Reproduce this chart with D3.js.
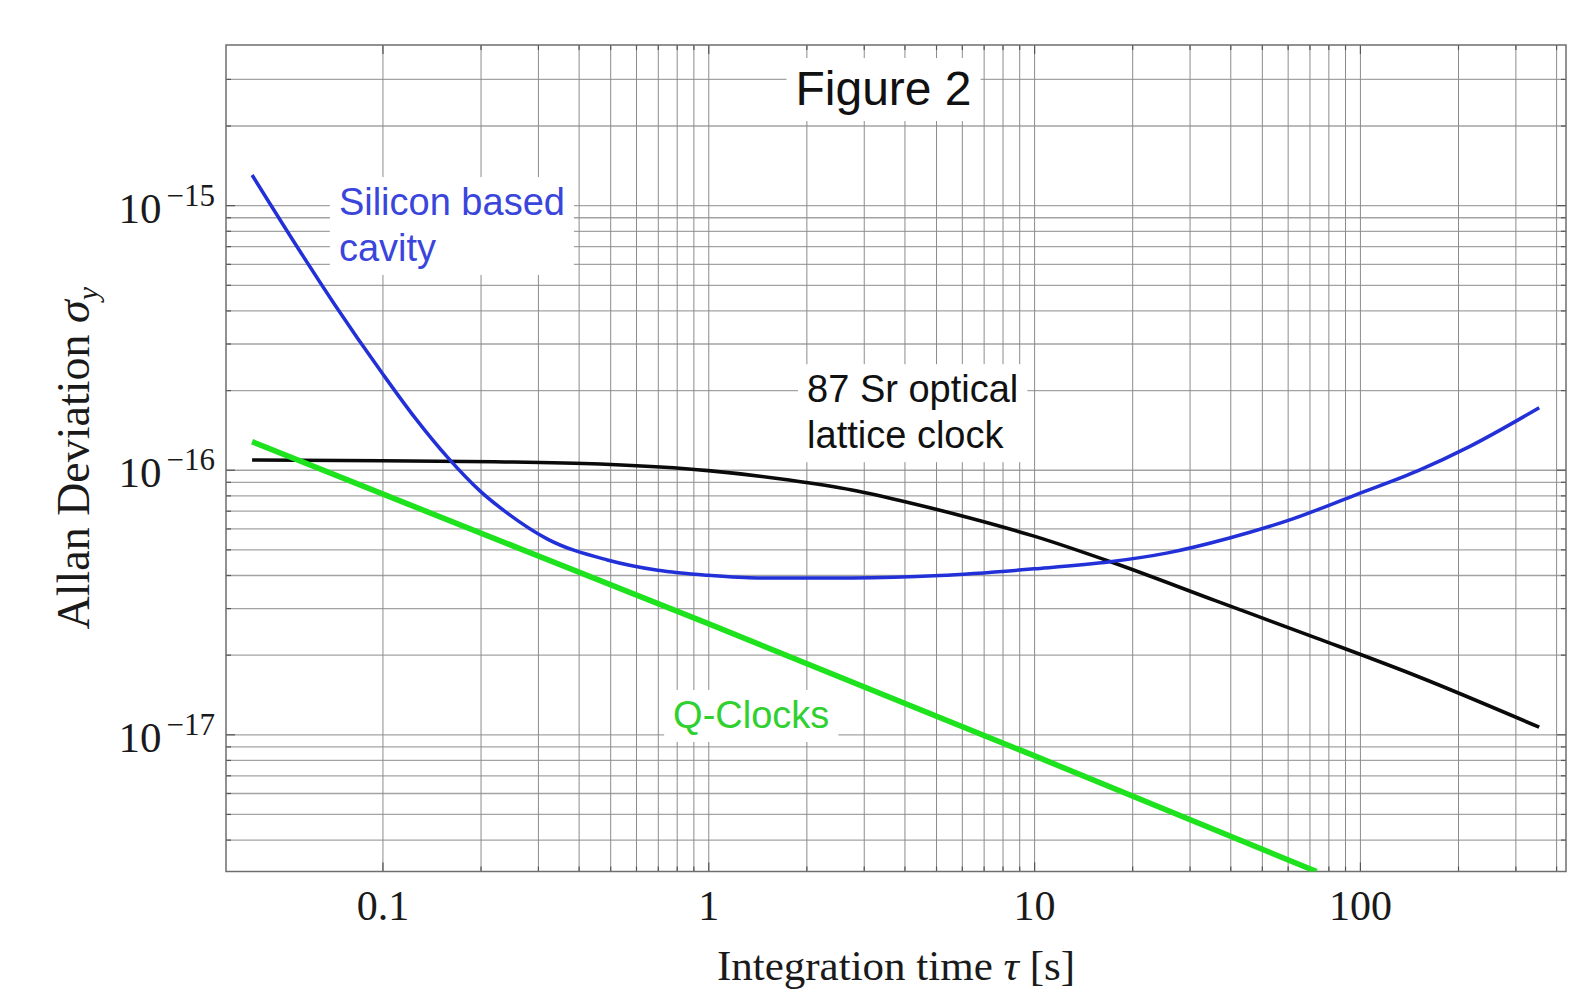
<!DOCTYPE html>
<html>
<head>
<meta charset="utf-8">
<script src="https://cdn.jsdelivr.net/npm/d3@7"></script>
<style>
  body { margin: 0; background: #fff; }
  svg { display: block; }
</style>
</head>
<body>
<svg id="chart" width="1588" height="989"></svg>
<script>
// values: integration time tau [s] -> Allan deviation
const siliconTau = [0.0398, 0.0562, 0.0708, 0.1, 0.1259, 0.1585, 0.1995, 0.24, 0.32, 0.49, 0.70, 1.0, 1.42, 2.76, 5.14, 10.0, 17.1, 25.5, 39.8, 62.2, 97.1, 151, 216, 355];
const siliconSigma = [1.30e-15, 6.61e-16, 4.27e-16, 2.31e-16, 1.57e-16, 1.113e-16, 8.30e-17, 6.90e-17, 5.48e-17, 4.56e-17, 4.17e-17, 3.99e-17, 3.90e-17, 3.90e-17, 3.98e-17, 4.22e-17, 4.49e-17, 4.84e-17, 5.52e-17, 6.52e-17, 8.04e-17, 9.92e-17, 1.22e-16, 1.715e-16];

const srTau = [0.0398, 0.1, 0.22, 0.465, 1.0, 1.77, 2.76, 4.2, 6.35, 10, 17.6, 36, 73.6, 150.6, 355];
const srSigma = [1.088e-16, 1.081e-16, 1.072e-16, 1.051e-16, 9.92e-17, 9.14e-17, 8.38e-17, 7.47e-17, 6.57e-17, 5.61e-17, 4.44e-17, 3.20e-17, 2.31e-17, 1.654e-17, 1.064e-17];

const qclockTau = [0.0398, 0.1, 1, 10, 73.6];
const qclockSigma = [1.276e-16, 8.1e-17, 2.62e-17, 8.3e-18, 3.03e-18];

const xTickValues = [0.1, 1, 10, 100];
const xTickLabels = ["0.1", "1", "10", "100"];
const yTickValues = [1e-17, 1e-16, 1e-15];
const yTickExponents = ["\u221217", "\u221216", "\u221215"];

const xDomain = [0.0331, 429];
const yDomain = [3.03e-18, 4.03e-15];

// text labels placed in data units (tau, sigma of first baseline)
const annotations = [
  { lines: ["Figure 2"], tau: 3.45, sigma: 2.39e-15, color: "#111", anchor: "middle", size: 48 },
  { lines: ["Silicon based", "cavity"], tau: 0.0735, sigma: 9.18e-16, color: "#3a45dc", anchor: "start", size: 38 },
  { lines: ["87 Sr optical", "lattice clock"], tau: 2.01, sigma: 1.80e-16, color: "#111", anchor: "start", size: 38 },
  { lines: ["Q-Clocks"], tau: 0.78, sigma: 1.057e-17, color: "#2fd02f", anchor: "start", size: 38 }
];

class AllanPlot {
  constructor(el) {
    this.svg = d3.select(el);
    this.width = +this.svg.attr("width");
    this.height = +this.svg.attr("height");
    this.left = 226;
    this.right = 1566;
    this.top = 45;
    this.bottom = 871.5;
  }

  render() {
    this.initScales();
    this.initGrid();
    this.initFrameTicks();
    this.initCurves();
    this.initLabels();
    this.initAxes();
  }

  initScales() {
    this.x = d3.scaleLog().domain(xDomain).range([this.left, this.right]);
    this.y = d3.scaleLog().domain(yDomain).range([this.bottom, this.top]);

    // grid at 1..9 of every decade (no vertical lines left of 0.1)
    this.gridX = [];
    [0.1, 1, 10, 100].forEach((p) => {
      for (let m = 1; m <= 9; m++) {
        const v = +(m * p).toPrecision(3);
        if (v <= 400) this.gridX.push(v);
      }
    });
    this.gridY = [];
    [1e-18, 1e-17, 1e-16, 1e-15].forEach((p) => {
      for (let m = 1; m <= 9; m++) {
        const v = m * p;
        if (v >= 3.9e-18 && v <= 3.5e-15) this.gridY.push(v);
      }
    });
  }

  initGrid() {
    const h = this.bottom - this.top;
    const w = this.right - this.left;

    this.svg.append("g")
      .attr("class", "grid-y")
      .attr("transform", `translate(${this.left},0)`)
      .call(d3.axisLeft(this.y).tickValues(this.gridY).tickSize(-w).tickFormat(""))
      .call((g) => g.select(".domain").remove())
      .selectAll("line")
      .attr("stroke", "#a3a3a3")
      .attr("stroke-width", 1.3);

    this.svg.append("g")
      .attr("class", "grid-x")
      .attr("transform", `translate(0,${this.bottom})`)
      .call(d3.axisBottom(this.x).tickValues(this.gridX).tickSize(-h).tickFormat(""))
      .call((g) => g.select(".domain").remove())
      .selectAll("line")
      .attr("stroke", "#8c8c8c")
      .attr("stroke-width", 1);
  }

  initFrameTicks() {
    const xMajor = (d) => xTickValues.indexOf(d) >= 0;
    const yMajor = (d) => yTickValues.some((v) => Math.abs(v - d) / v < 1e-6);
    const sides = [
      { axis: d3.axisBottom(this.x), vals: this.gridX, t: `translate(0,${this.bottom})`, major: xMajor },
      { axis: d3.axisTop(this.x), vals: this.gridX, t: `translate(0,${this.top})`, major: xMajor },
      { axis: d3.axisLeft(this.y), vals: this.gridY, t: `translate(${this.left},0)`, major: yMajor },
      { axis: d3.axisRight(this.y), vals: this.gridY, t: `translate(${this.right},0)`, major: yMajor }
    ];
    sides.forEach((s) => {
      const g = this.svg.append("g")
        .attr("class", "frame-ticks")
        .attr("transform", s.t)
        .call(s.axis.tickValues(s.vals).tickSize(-5).tickFormat(""));
      g.select(".domain").remove();
      g.selectAll(".tick line")
        .attr("stroke", "#555")
        .attr("stroke-width", 1.2)
        .each(function (d) {
          if (s.major(d)) {
            const l = d3.select(this);
            ["x2", "y2"].forEach((a) => {
              const v = +l.attr(a);
              if (v) l.attr(a, v * 1.8);
            });
          }
        });
    });

    this.svg.append("rect")
      .attr("x", this.left)
      .attr("y", this.top)
      .attr("width", this.right - this.left)
      .attr("height", this.bottom - this.top)
      .attr("fill", "none")
      .attr("stroke", "#6e6e6e")
      .attr("stroke-width", 1.5);
  }

  initCurves() {
    this.svg.append("clipPath")
      .attr("id", "plot-clip")
      .append("rect")
      .attr("x", this.left)
      .attr("y", this.top)
      .attr("width", this.right - this.left)
      .attr("height", this.bottom - this.top);

    const line = d3.line()
      .x((d) => this.x(d[0]))
      .y((d) => this.y(d[1]))
      .curve(d3.curveMonotoneX);

    const series = [
      { tau: srTau, sigma: srSigma, color: "#0a0a0a", width: 3.6 },
      { tau: siliconTau, sigma: siliconSigma, color: "#2230d8", width: 3.5 },
      { tau: qclockTau, sigma: qclockSigma, color: "#1de21d", width: 5.6 }
    ];

    this.svg.append("g")
      .attr("class", "curves")
      .attr("clip-path", "url(#plot-clip)")
      .selectAll("path")
      .data(series)
      .enter()
      .append("path")
      .attr("d", (d) => line(d.tau.map((t, i) => [t, d.sigma[i]])))
      .attr("fill", "none")
      .attr("stroke", (d) => d.color)
      .attr("stroke-width", (d) => d.width)
      .attr("stroke-linecap", "butt")
      .attr("stroke-linejoin", "round");
  }

  initLabels() {
    const layer = this.svg.append("g").attr("class", "labels");
    annotations.forEach((a) => {
      const g = layer.append("g");
      const bg = g.append("rect").attr("fill", "#fff");
      const text = g.append("text")
        .attr("font-family", "'Liberation Sans', Arial, sans-serif")
        .attr("font-size", a.size)
        .attr("fill", a.color)
        .attr("text-anchor", a.anchor);
      a.lines.forEach((ln, i) => {
        text.append("tspan")
          .attr("x", this.x(a.tau))
          .attr("y", this.y(a.sigma) + i * 46)
          .text(ln);
      });
      const bb = text.node().getBBox();
      bg.attr("x", bb.x - 9)
        .attr("y", bb.y - 4)
        .attr("width", bb.width + 18)
        .attr("height", bb.height + 10);
    });
  }

  initAxes() {
    const serif = "'Liberation Serif', 'Times New Roman', serif";

    const xa = this.svg.append("g")
      .attr("class", "x-axis")
      .attr("transform", `translate(0,${this.bottom})`)
      .call(d3.axisBottom(this.x).tickValues(xTickValues).tickSize(0)
        .tickFormat((d, i) => xTickLabels[i]));
    xa.select(".domain").remove();
    xa.attr("font-family", serif).attr("font-size", 42);
    xa.selectAll("text").attr("fill", "#1a1a1a").attr("y", 48.5).attr("dy", null);

    const ya = this.svg.append("g")
      .attr("class", "y-axis")
      .attr("transform", `translate(${this.left},0)`)
      .call(d3.axisLeft(this.y).tickValues(yTickValues).tickSize(0).tickFormat(() => ""));
    ya.select(".domain").remove();
    ya.attr("font-family", serif).attr("font-size", 43);
    ya.selectAll("text").each(function (d, i) {
      const t = d3.select(this).attr("x", -11).attr("y", 17).attr("dy", null).attr("fill", "#1a1a1a");
      t.append("tspan").text("10");
      t.append("tspan").attr("dx", 5).attr("dy", -17).attr("font-size", 31).text(yTickExponents[i]);
    });

    // axis titles
    this.svg.append("text")
      .attr("x", (this.left + this.right) / 2)
      .attr("y", 980)
      .attr("text-anchor", "middle")
      .attr("font-family", serif)
      .attr("font-size", 43)
      .attr("fill", "#1a1a1a")
      .call((t) => {
        t.append("tspan").text("Integration time ");
        t.append("tspan").attr("font-style", "italic").text("\u03c4");
        t.append("tspan").text(" [s]");
      });

    this.svg.append("text")
      .attr("transform", `translate(89,${(this.top + this.bottom) / 2}) rotate(-90)`)
      .attr("text-anchor", "middle")
      .attr("font-family", serif)
      .attr("font-size", 46)
      .attr("fill", "#1a1a1a")
      .call((t) => {
        t.append("tspan").text("Allan Deviation ");
        t.append("tspan").attr("font-style", "italic").text("\u03c3");
        t.append("tspan").attr("font-style", "italic").attr("font-size", 30).attr("dy", 9).text("y");
      });
  }
}

new AllanPlot("#chart").render();
</script>
</body>
</html>
